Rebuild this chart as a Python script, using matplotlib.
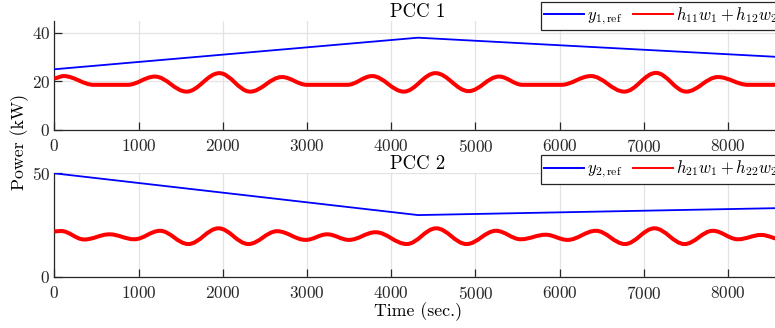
import matplotlib

matplotlib.use("Agg")
import matplotlib.pyplot as plt
from matplotlib.path import Path
from matplotlib.patches import PathPatch
from matplotlib.lines import Line2D

plt.rcParams["font.family"] = "serif"
plt.rcParams["font.serif"] = ["cmr10"]
plt.rcParams["mathtext.fontset"] = "cm"
plt.rcParams["axes.formatter.use_mathtext"] = True

# reference trajectories (piecewise linear)
ref_t = [0, 4320, 8640]
y1_ref = [25, 38, 30]
y2_ref = [50, 29.8, 33.2]

# turning points of the combined outputs
p1_t = [0, 110, 470, 870, 1195, 1570, 1960, 2325, 2702, 3000, 3480, 3775,
        4150, 4527, 4920, 5280, 5560, 6020, 6373, 6769, 7146, 7504, 7881,
        8238, 8640]
p1_v = [21.3, 22.2, 18.6, 18.6, 22.0, 15.8, 23.4, 15.8, 21.8, 18.6, 18.6, 22.2,
        15.8, 23.4, 16.0, 22.0, 18.6, 18.6, 22.2, 15.8, 23.5, 15.8, 21.8,
        18.6, 18.6]

p2_t = [0, 80, 355, 655, 950, 1255, 1591, 1950, 2305, 2645, 2985, 3240, 3500,
        3815, 4185, 4535, 4895, 5245, 5540, 5835, 6095, 6432, 6777, 7127,
        7484, 7821, 8119, 8396, 8640]
p2_v = [21.9, 22.1, 18.0, 20.5, 18.1, 22.2, 15.8, 23.4, 15.8, 22.0, 17.8, 20.5,
        17.8, 21.5, 15.8, 23.4, 15.8, 22.2, 18.1, 20.3, 17.8, 22.2, 15.8, 23.4,
        15.8, 22.2, 18.1, 20.2, 18.0]

x_ticks = [0, 1000, 2000, 3000, 4000, 5000, 6000, 7000, 8000]

DARK = "#262626"
GRID = "#e3e3e3"


def smooth_path(t, v, k=0.3634):
    # cubic bezier segments with flat tangents at every turning point
    verts = [(t[0], v[0])]
    codes = [Path.MOVETO]
    for i in range(len(t) - 1):
        dt = t[i + 1] - t[i]
        verts += [(t[i] + k * dt, v[i]), (t[i + 1] - k * dt, v[i + 1]),
                  (t[i + 1], v[i + 1])]
        codes += [Path.CURVE4] * 3
    return Path(verts, codes)


def style_axes(ax, yticks, ylim):
    ax.set_xlim(0, 8640)
    ax.set_ylim(*ylim)
    ax.set_xticks(x_ticks)
    ax.set_yticks(yticks)
    ax.grid(True, color=GRID, lw=0.9)
    ax.set_axisbelow(True)
    for s in ["top", "right"]:
        ax.spines[s].set_visible(False)
    for s in ["left", "bottom"]:
        ax.spines[s].set_color(DARK)
        ax.spines[s].set_linewidth(0.9)
    ax.tick_params(direction="in", length=6, width=0.9, colors=DARK,
                   labelsize=12.3, pad=3)
    ax.tick_params(axis="x", pad=6)


fig = plt.figure(figsize=(7.75, 3.28), dpi=100)
ax1 = fig.add_axes([0.0701, 0.6037, 0.9387, 0.3332])
ax2 = fig.add_axes([0.0701, 0.1564, 0.9387, 0.3152])

panels = [
    (ax1, y1_ref, p1_t, p1_v, "PCC 1", [0, 20, 40], (0, 45),
     r"$y_{1,\mathrm{ref}}$", r"$h_{11}w_1 + h_{12}w_2$", 1.174),
    (ax2, y2_ref, p2_t, p2_v, "PCC 2", [0, 50], (0, 50),
     r"$y_{2,\mathrm{ref}}$", r"$h_{21}w_1 + h_{22}w_2$", 1.177),
]

for ax, yref, pt, pv, title, yt, yl, lab_ref, lab_out, ltop in panels:
    style_axes(ax, yt, yl)
    ax.plot(ref_t, yref, color="blue", lw=1.3, zorder=3)
    ax.add_patch(PathPatch(smooth_path(pt, pv), fill=False, edgecolor="red",
                           lw=2.9, zorder=3))
    ax.set_title(title, fontsize=13.5, pad=2, color="black")
    handles = [Line2D([], [], color="blue", lw=1.4),
               Line2D([], [], color="red", lw=1.4)]
    leg = ax.legend(handles, [lab_ref, lab_out], ncol=2, loc="upper left",
                    bbox_to_anchor=(0.6686, ltop), borderaxespad=0,
                    fontsize=12, handlelength=2.4, handletextpad=0.2,
                    columnspacing=0.6, borderpad=0.2, fancybox=False,
                    framealpha=1)
    leg.get_frame().set_edgecolor(DARK)
    leg.get_frame().set_linewidth(0.9)

fig.text(0.025, 0.567, "Power (kW)", rotation=90, ha="center", va="center",
         fontsize=12.8)
fig.text(0.539, 0.049, "Time (sec.)", ha="center", va="center", fontsize=12.8)

fig.savefig("out.png", dpi=100)
